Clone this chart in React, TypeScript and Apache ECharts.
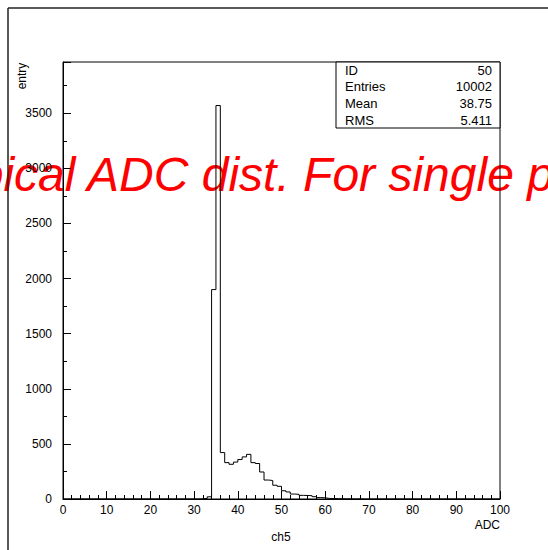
import React, { useEffect, useRef } from "react";
import * as echarts from "echarts";

// Histogram: bin left edges 0..99 (bin width 1), entries per bin
const binEdges: number[] = Array.from({ length: 100 }, (_, i) => i);
const counts: number[] = [
  0, 0, 0, 0, 0, 0, 0, 0, 0, 0,
  0, 0, 0, 0, 0, 0, 0, 0, 0, 0,
  0, 0, 0, 0, 0, 0, 0, 0, 0, 0,
  0, 2, 5, 20, 1900, 3570, 421, 330, 315, 335,
  358, 382, 405, 330, 322, 245, 172, 168, 125, 115,
  75, 64, 45, 42, 33, 32, 30, 21, 13, 11,
  5, 4, 3, 2, 1, 1, 0, 1, 0, 0,
  0, 0, 0, 0, 0, 0, 0, 0, 0, 0,
  0, 0, 0, 0, 0, 0, 0, 0, 0, 0,
  0, 0, 0, 0, 0, 0, 0, 0, 0, 0,
];
const statLabels: string[] = ["ID", "Entries", "Mean", "RMS"];
const statValues: string[] = ["50", "10002", "38.75", "5.411"];
const title = "Typical ADC dist. For single p.e.";

const FONT = "'Liberation Sans', Arial, Helvetica, sans-serif";

export default function App() {
  const ref = useRef<HTMLDivElement>(null);
  useEffect(() => {
    if (!ref.current) return;
    const chart = echarts.init(ref.current, null, { renderer: "svg" });
    const data = binEdges.map((x, i) => [x, counts[i]]);
    data.push([100, counts[counts.length - 1]]);

    const statTexts: any[] = [];
    statLabels.forEach((l, i) => {
      const y = 70 + i * 16.8;
      statTexts.push({
        type: "text",
        x: 345,
        y,
        z: 11,
        style: { text: l, fill: "#000", font: `13px ${FONT}`, align: "left", verticalAlign: "middle" },
      });
      statTexts.push({
        type: "text",
        x: 492,
        y,
        z: 11,
        style: { text: statValues[i], fill: "#000", font: `13px ${FONT}`, align: "right", verticalAlign: "middle" },
      });
    });

    chart.setOption({
      animation: false,
      backgroundColor: "#fff",
      grid: {
        left: 63,
        top: 62,
        right: 48,
        bottom: 51,
        show: true,
        borderColor: "#000",
        borderWidth: 1,
        backgroundColor: "transparent",
        z: 5,
      },
      xAxis: {
        type: "value",
        min: 0,
        max: 100,
        interval: 10,
        axisLine: { show: true, lineStyle: { color: "#000", width: 1 } },
        axisTick: { show: true, inside: true, length: 8, lineStyle: { color: "#000" } },
        minorTick: { show: true, splitNumber: 5, length: 4, lineStyle: { color: "#000" } },
        axisLabel: { color: "#000", fontSize: 12, fontFamily: FONT, margin: 5 },
        splitLine: { show: false },
        z: 5,
      },
      yAxis: {
        type: "value",
        min: 0,
        max: 3965,
        interval: 500,
        axisLine: { show: true, lineStyle: { color: "#000", width: 1 } },
        axisTick: { show: true, inside: true, length: 8, lineStyle: { color: "#000" } },
        minorTick: { show: true, splitNumber: 2, length: 4, lineStyle: { color: "#000" } },
        axisLabel: {
          color: "#000",
          fontSize: 12,
          fontFamily: FONT,
          margin: 11,
          showMaxLabel: false,
          formatter: (v: number) => (v % 500 === 0 ? String(v) : ""),
        },
        splitLine: { show: false },
        z: 5,
      },
      series: [
        {
          type: "line",
          step: "end",
          data,
          symbol: "none",
          lineStyle: { color: "#000", width: 1 },
          z: 6,
        },
      ],
      graphic: [
        {
          type: "text",
          x: -73,
          y: 174,
          z: -1,
          style: {
            text: title,
            fill: "#ff0000",
            font: `italic 48px ${FONT}`,
            align: "left",
            verticalAlign: "middle",
          },
        },
        {
          type: "line",
          z: 1,
          shape: { x1: 8, y1: 8, x2: 8, y2: 560 },
          style: { stroke: "#222", lineWidth: 1.5 },
        },
        {
          type: "line",
          z: 1,
          shape: { x1: 8, y1: 8, x2: 560, y2: 8 },
          style: { stroke: "#222", lineWidth: 1.5 },
        },
        {
          type: "rect",
          z: 10,
          shape: { x: 336, y: 62, width: 164, height: 66 },
          style: { fill: "#fff", stroke: "#000", lineWidth: 1 },
        },
        ...statTexts,
        {
          type: "text",
          x: 22,
          y: 76,
          rotation: Math.PI / 2,
          z: 10,
          style: { text: "entry", fill: "#000", font: `12px ${FONT}`, align: "center", verticalAlign: "middle" },
        },
        {
          type: "text",
          x: 500,
          y: 525,
          z: 10,
          style: { text: "ADC", fill: "#000", font: `12px ${FONT}`, align: "right", verticalAlign: "middle" },
        },
        {
          type: "text",
          x: 281,
          y: 537,
          z: 10,
          style: { text: "ch5", fill: "#000", font: `12px ${FONT}`, align: "center", verticalAlign: "middle" },
        },
      ],
    });
    return () => chart.dispose();
  }, []);
  return (
    <div
      ref={ref}
      style={{ position: "fixed", left: 0, top: 0, width: 548, height: 550 }}
    />
  );
}
